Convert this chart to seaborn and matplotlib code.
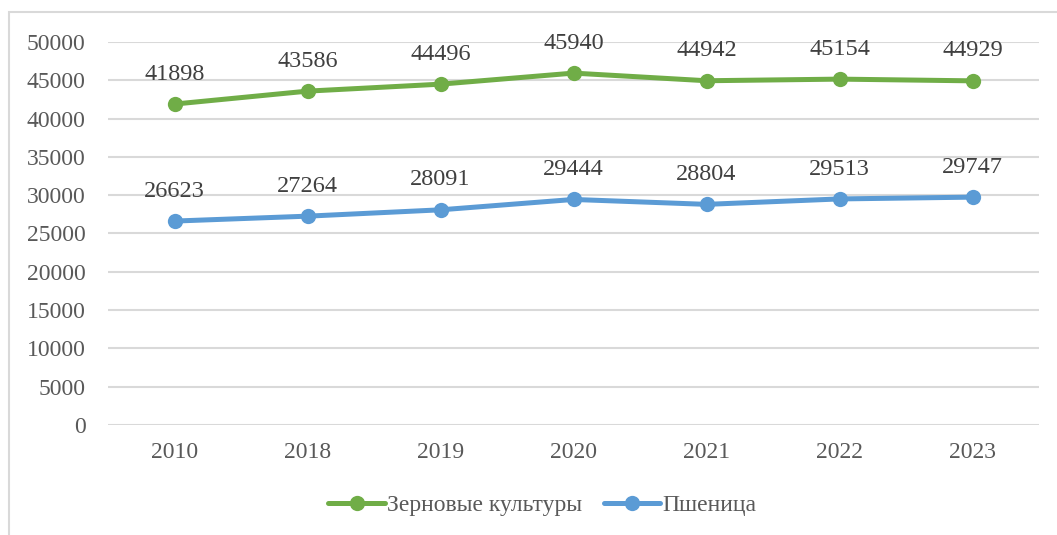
import pandas as pd
import matplotlib.pyplot as plt
import seaborn as sns
from matplotlib.patches import Rectangle

# Data
years = ['2010', '2018', '2019', '2020', '2021', '2022', '2023']
grain = [41898, 43586, 44496, 45940, 44942, 45154, 44929]
wheat = [26623, 27264, 28091, 29444, 28804, 29513, 29747]
series_names = ['Зерновые культуры', 'Пшеница']
colors = ['#70AD47', '#5B9BD5']

df = pd.DataFrame({
    'Год': years * 2,
    'Значение': grain + wheat,
    'Серия': [series_names[0]] * len(years) + [series_names[1]] * len(years),
})

sns.set_style('white')
plt.rcParams['font.family'] = ['Liberation Serif', 'DejaVu Serif']

fig = plt.figure(figsize=(10.57, 5.35), dpi=100)
ax = fig.add_axes([108 / 1057, 1 - 425 / 535, 931 / 1057, 383 / 535])

# chart border
fig.patches.append(Rectangle((9 / 1057, -0.1), 1.2, 1 - 12 / 535 + 0.1,
                             transform=fig.transFigure, fill=False,
                             edgecolor='#D9D9D9', linewidth=1.5))

sns.lineplot(data=df, x='Год', y='Значение', hue='Серия', palette=colors,
             marker='o', markersize=11, markeredgewidth=0, linewidth=3.6,
             ax=ax, legend=True)

for vals in (grain, wheat):
    for i, v in enumerate(vals):
        ax.annotate(str(v), (i, v), xytext=(0, 21.5), textcoords='offset points',
                    ha='center', va='center', fontsize=17.5, color='#404040')

ax.set_ylim(0, 50000)
ax.set_xlim(-0.5, len(years) - 0.5)
ax.set_yticks(range(0, 50001, 5000))
ax.yaxis.grid(True, color='#D9D9D9', linewidth=1.5)
ax.set_axisbelow(True)
for s in ax.spines.values():
    s.set_visible(False)
ax.tick_params(axis='both', labelsize=17, labelcolor='#595959', length=0)
ax.tick_params(axis='x', pad=12)
ax.tick_params(axis='y', pad=16)
ax.set_xlabel('')
ax.set_ylabel('')

leg = ax.legend(loc='center', bbox_to_anchor=(0.5 + 14 / 1057, 1 - 505 / 535),
                bbox_transform=fig.transFigure,
                ncol=2, frameon=False, fontsize=17, handlelength=2.4,
                columnspacing=0.9, handletextpad=0.1)
for t in leg.get_texts():
    t.set_color('#595959')
for h in leg.legend_handles:
    h.set_linewidth(3.6)

fig.savefig('out.png', dpi=100)
